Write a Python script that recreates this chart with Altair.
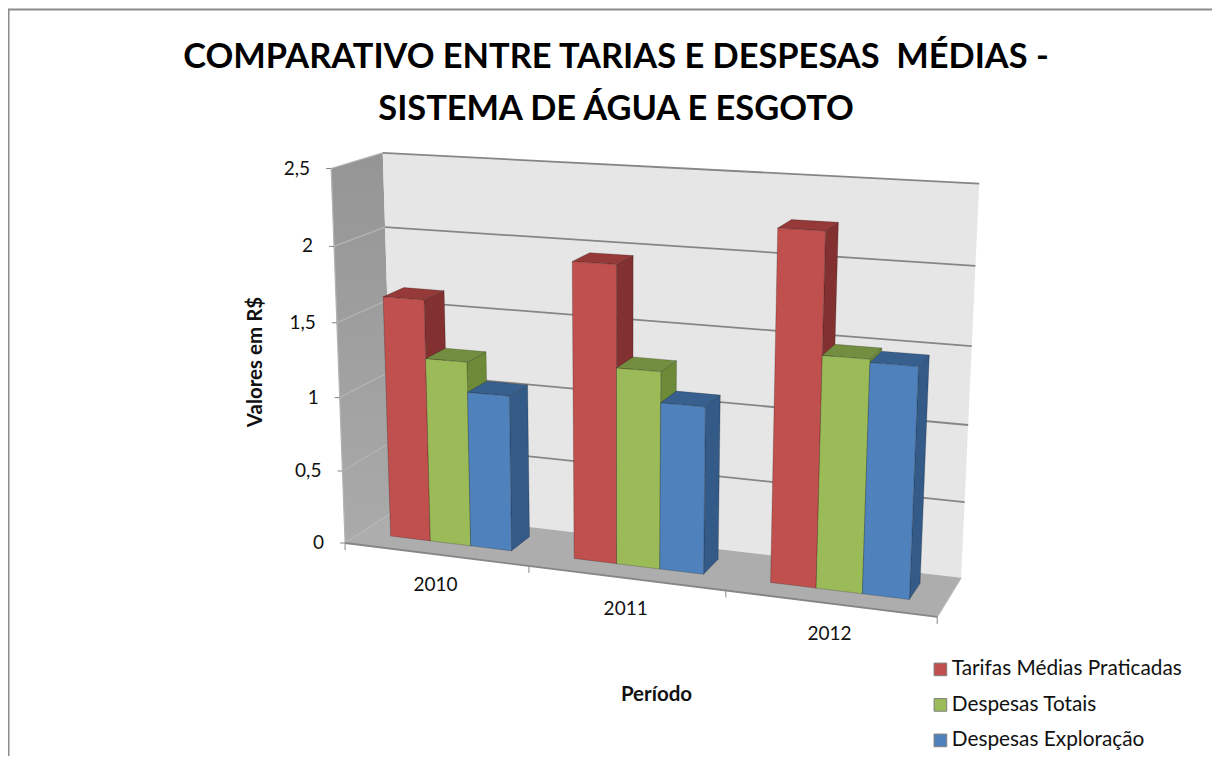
import altair as alt
import numpy as np
import pandas as pd

# ---- data
years = ["2010", "2011", "2012"]
series = ["Tarifas Médias Praticadas", "Despesas Totais", "Despesas Exploração"]
tarifas = [1.64, 1.96, 2.25]
totais = [1.25, 1.30, 1.49]
exploracao = [1.05, 1.10, 1.47]
values = [tarifas, totais, exploracao]
y_ticks = [0, 0.5, 1, 1.5, 2, 2.5]
y_labels = ["0", "0,5", "1", "1,5", "2", "2,5"]
title_lines = ["COMPARATIVO ENTRE TARIAS E DESPESAS\u00a0 MÉDIAS -", "SISTEMA DE ÁGUA E ESGOTO"]

front = ["#C0504D", "#9BBB59", "#4F81BD"]
side = ["#833130", "#6C8A38", "#345A88"]
top = ["#953A38", "#738E40", "#38608F"]

W, H = 1204, 748
FONT = "Lato"
GAP_W = 1.5   # gap width of the bars, in bar widths
DEPTH = (0.32, 0.74)  # bar extent along the depth axis

# ---- perspective camera, calibrated on the corners of the 3D box
calib = [((0, 0, 0), (348, 540)), ((1, 0, 0), (937, 618)), ((1, 1, 0), (962, 575)),
         ((0, 1, 0), (391, 513)), ((0, 0, 2.5), (329, 168)), ((0, 1, 2.5), (385, 153)),
         ((1, 1, 2.5), (979, 184)), ((1/3, 0, 0), (529, 567)), ((2/3, 0, 0), (725, 592))]
A = []
for (u, d, v), (sx, sy) in calib:
    A.append([u, d, v, 1, 0, 0, 0, 0, -sx*u, -sx*d, -sx*v, -sx])
    A.append([0, 0, 0, 0, u, d, v, 1, -sy*u, -sy*d, -sy*v, -sy])
P = np.linalg.svd(np.array(A, float))[2][-1].reshape(3, 4)


def proj(u, d, v):
    q = P @ np.array([u, d, v, 1.0])
    return q[0] / q[2], q[1] / q[2]


lines = []
poly_rows = []


def poly(group, key, pts):
    pid = f"{group}{len(poly_rows):04d}"
    for i, p in enumerate(list(pts) + [pts[0]]):
        x, y = proj(*p)
        poly_rows.append({"pid": pid, "i": i, "x": x, "y": y, "key": key, "group": group})


def seg(kind, a, b, d1=(0, 0), d2=(0, 0)):
    lid = len(lines)
    xa, ya = proj(*a)
    xb, yb = proj(*b)
    lines.append({"lid": lid, "i": 0, "x": xa + d1[0], "y": ya + d1[1], "kind": kind})
    lines.append({"lid": lid, "i": 1, "x": xb + d2[0], "y": yb + d2[1], "kind": kind})


vmax = y_ticks[-1]
poly("wall", "parede", [(0, 1, 0), (1, 1, 0), (1, 1, vmax), (0, 1, vmax)])
poly("side", "lateral", [(0, 0, 0), (0, 1, 0), (0, 1, vmax), (0, 0, vmax)])
poly("wall", "piso", [(0, 0, 0), (1, 0, 0), (1, 1, 0), (0, 1, 0)])

for t in y_ticks[1:]:
    seg("grid", (0, 1, t), (1, 1, t))
    seg("gridside", (0, 0, t), (0, 1, t))
for t in y_ticks:
    seg("tick", (0, 0, t), (0, 0, t), d1=(-5, 0))
for c in range(len(years) + 1):
    seg("tick", (c / 3, 0, 0), (c / 3, 0, 0), d2=(0, 7))
seg("grid", (0, 0, 0), (1, 0, 0))
seg("gridside", (1, 0, 0), (1, 1, 0))
seg("gridside", (0, 0, 0), (0, 0, vmax))

bw = 1 / (len(series) + GAP_W) / 3
for c, _ in enumerate(years):
    for s, name in enumerate(series):
        u0 = c / 3 + bw * (GAP_W / 2 + s)
        u1 = u0 + bw
        v = values[s][c]
        d0, d1 = DEPTH
        poly("bar", name + " lado", [(u1, d0, 0), (u1, d1, 0), (u1, d1, v), (u1, d0, v)])
        poly("bar", name + " topo", [(u0, d0, v), (u1, d0, v), (u1, d1, v), (u0, d1, v)])
        poly("bar", name, [(u0, d0, 0), (u1, d0, 0), (u1, d0, v), (u0, d0, v)])

polys_df = pd.DataFrame(poly_rows)
lines_df = pd.DataFrame(lines)

frame_df = pd.DataFrame({"x": [8.5, 8.5, 8 + W], "y": [8 + H, 9.5, 9.5], "i": [0, 1, 2]})

ylab_rows = []
for t, l in zip(y_ticks, y_labels):
    x, y = proj(0, 0, t)
    ylab_rows.append({"x": x - 21, "y": y, "t": l})
xlab_rows = []
for c, yr in enumerate(years):
    x, y = proj((c + 0.5) / 3, 0, 0)
    xlab_rows.append({"x": x, "y": y + 31, "t": yr})
ylab_df = pd.DataFrame(ylab_rows)
xlab_df = pd.DataFrame(xlab_rows)
ax_t = pd.DataFrame({"x": [656.5, 256], "y": [695, 362], "t": ["Período", "Valores em R$"], "a": [0, 270]})

X = alt.X("x:Q", scale=alt.Scale(domain=[8, 8 + W], range=[0, W], nice=False, zero=False), axis=None)
Y = alt.Y("y:Q", scale=alt.Scale(domain=[8 + H, 8], range=[H, 0], nice=False, zero=False), axis=None)

fill_domain = ["parede", "piso"]
fill_range = ["#E6E6E6", "#ADADAD"]
for s, name in enumerate(series):
    fill_domain += [name, name + " lado", name + " topo"]
    fill_range += [front[s], side[s], top[s]]
fill = alt.Fill(
    "key:N",
    scale=alt.Scale(domain=fill_domain, range=fill_range),
    legend=alt.Legend(
        values=series, orient="none", legendX=922, legendY=651, title=None,
        symbolType="square", symbolSize=160, symbolStrokeColor="#7f7f7f", symbolStrokeWidth=1,
        symbolOpacity=1, labelFont=FONT, labelFontSize=20.8, labelColor="#111111",
        rowPadding=13.5, labelOffset=1, labelLimit=400),
)

back = alt.Chart(polys_df[(polys_df.group == "wall")]).mark_line(strokeWidth=0).encode(
    x=X, y=Y, fill=fill, detail="pid:N", order="i:Q")
left_wall = alt.Chart(polys_df[polys_df.group == "side"]).mark_line(
    strokeWidth=0,
    fill=alt.LinearGradient(gradient="linear", x1=0, x2=0, y1=0, y2=1,
                            stops=[alt.GradientStop(color="#959595", offset=0),
                                   alt.GradientStop(color="#AAAAAA", offset=1)]),
).encode(x=X, y=Y, detail="pid:N", order="i:Q")
bars = alt.Chart(polys_df[polys_df.group == "bar"]).mark_line(
    stroke="#000000", strokeOpacity=0.2, strokeWidth=1).encode(
    x=X, y=Y, fill=fill, detail="pid:N", order="i:Q")


def line_layer(kind, color, width):
    return alt.Chart(lines_df[lines_df.kind == kind]).mark_line(color=color, strokeWidth=width).encode(
        x=X, y=Y, detail="lid:N", order="i:Q")


frame = alt.Chart(frame_df).mark_line(color="#8c8c8c", strokeWidth=2).encode(x=X, y=Y, order="i:Q")

ylab = alt.Chart(ylab_df).mark_text(font=FONT, fontSize=19, align="right", color="#111111").encode(x=X, y=Y, text="t:N")
xlab = alt.Chart(xlab_df).mark_text(font=FONT, fontSize=19, align="center", color="#111111").encode(x=X, y=Y, text="t:N")
xtitle = alt.Chart(ax_t[ax_t.a == 0]).mark_text(font=FONT, fontSize=20.5, fontWeight="bold", color="#111111").encode(x=X, y=Y, text="t:N")
ytitle = alt.Chart(ax_t[ax_t.a == 270]).mark_text(font=FONT, fontSize=20.5, fontWeight="bold", angle=270, color="#111111").encode(x=X, y=Y, text="t:N")

chart = alt.layer(
    frame, left_wall, back,
    line_layer("gridside", "#B4B4B4", 1.2),
    line_layer("grid", "#868686", 1.8),
    line_layer("tick", "#868686", 1),
    bars, ylab, xlab, xtitle, ytitle,
).properties(
    width=W, height=H,
    title=alt.TitleParams(text=title_lines, font=FONT, fontSize=34.4, fontWeight="bold", color="#000000",
                          anchor="middle", lineHeight=52, dy=159.5, dx=6, baseline="bottom"),
    autosize=alt.AutoSizeParams(type="none"),
    padding=0,
).configure_view(stroke=None)

chart.save("out.html", embed_options={"renderer": "svg", "actions": False})
